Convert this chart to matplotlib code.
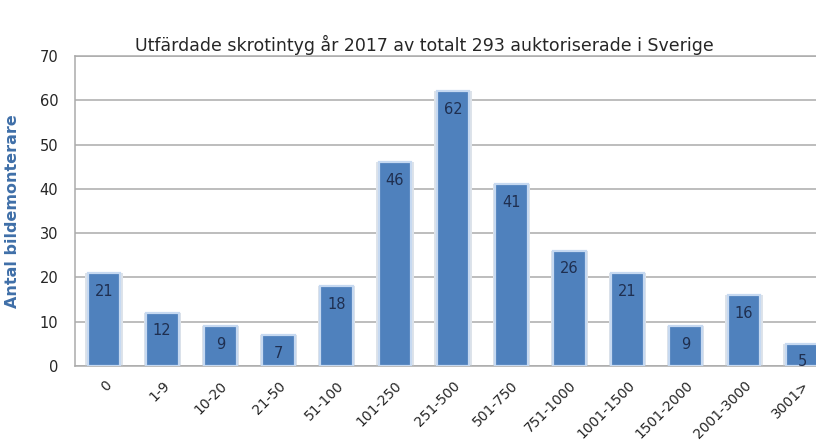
import matplotlib.pyplot as plt

categories = ["0", "1-9", "10-20", "21-50", "51-100", "101-250", "251-500",
              "501-750", "751-1000", "1001-1500", "1501-2000", "2001-3000", "3001>"]
counts = [21, 12, 9, 7, 18, 46, 62, 41, 26, 21, 9, 16, 5]

title = "Utfärdade skrotintyg år 2017 av totalt 293 auktoriserade i Sverige"
ylabel = "Antal bildemonterare"

plt.rcParams['font.family'] = ['DejaVu Sans']

fig = plt.figure(figsize=(8.16, 4.43), dpi=100)
axes = fig.add_axes([75 / 816, 1 - 366 / 443, 1 - 75 / 816 + 0.01, 310 / 443])

x = list(range(len(categories)))
axes.set_axisbelow(True)
axes.yaxis.grid(True, color="#ababab", linewidth=1.1)

# light glow around bars
axes.bar(x, counts, width=0.64, color="#dde3ea", edgecolor="none", zorder=2)
axes.bar(x, counts, width=0.56, color="#4f81bd", edgecolor="#c6d9f1",
         linewidth=1.6, zorder=3)

for xi, v in zip(x, counts):
    axes.annotate(str(v), (xi, v), xytext=(0, -13), textcoords="offset points",
                  ha="center", va="center", fontsize=10.5, color="#1f2f50", zorder=4)

axes.set_xlim(-0.5, 12.38)
axes.set_ylim(0, 70)
axes.set_yticks(range(0, 71, 10))
axes.set_xticks(x)
axes.set_xticklabels(categories, rotation=45, ha="right", rotation_mode="anchor",
                     fontsize=10, color="#262626")
axes.tick_params(axis="y", length=0, pad=12, labelsize=10.5, labelcolor="#262626")
axes.tick_params(axis="x", length=0, pad=9)

for side in ["left", "top", "right", "bottom"]:
    axes.spines[side].set_color("#ababab")
    axes.spines[side].set_linewidth(1.1)

axes.set_ylabel(ylabel, fontsize=11.5, fontweight="bold", color="#3f6fa8", labelpad=14)
fig.text(0.52, 0.898, title, ha="center", va="center", fontsize=12.5, color="#262626")

fig.savefig("out.png", dpi=100)
